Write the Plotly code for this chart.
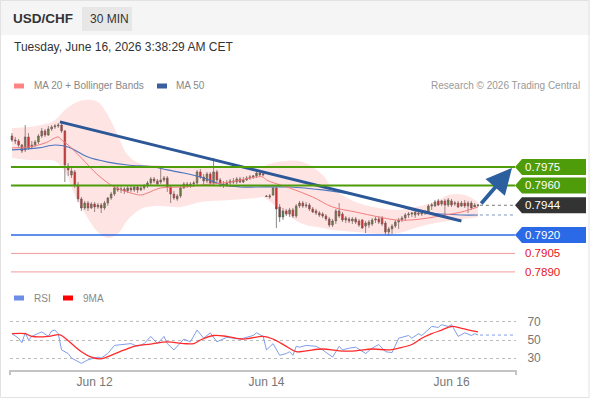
import plotly.graph_objects as go

W, H = 590, 400

# 30-minute USD/CHF candles, bar index 0..141
opens = [
    0.80001, 0.79969, 0.79961, 0.79928, 0.79888, 0.79993, 0.79912, 0.79928, 0.79953, 0.80001,
    0.80042, 0.80009, 0.80058, 0.80074, 0.80082, 0.80090, 0.80042, 0.79758, 0.79685, 0.79710,
    0.79604, 0.79491, 0.79418, 0.79458, 0.79418, 0.79450, 0.79426, 0.79442, 0.79418, 0.79458,
    0.79499, 0.79531, 0.79580, 0.79564, 0.79572, 0.79556, 0.79580, 0.79564, 0.79588, 0.79564,
    0.79580, 0.79596, 0.79620, 0.79653, 0.79637, 0.79628, 0.79645, 0.79661, 0.79588, 0.79531,
    0.79491, 0.79515, 0.79580, 0.79612, 0.79596, 0.79612, 0.79620, 0.79710, 0.79669, 0.79637,
    0.79693, 0.79620, 0.79710, 0.79645, 0.79612, 0.79604, 0.79620, 0.79637, 0.79628, 0.79653,
    0.79628, 0.79645, 0.79661, 0.79669, 0.79677, 0.79701, 0.79685, 0.79515, 0.79507, 0.79523,
    0.79580, 0.79426, 0.79345, 0.79394, 0.79369, 0.79402, 0.79353, 0.79434, 0.79458, 0.79434,
    0.79442, 0.79410, 0.79394, 0.79377, 0.79369, 0.79353, 0.79329, 0.79280, 0.79313, 0.79394,
    0.79369, 0.79321, 0.79329, 0.79313, 0.79329, 0.79313, 0.79321, 0.79272, 0.79280, 0.79288,
    0.79321, 0.79329, 0.79337, 0.79296, 0.79223, 0.79248, 0.79272, 0.79304, 0.79321, 0.79337,
    0.79361, 0.79369, 0.79361, 0.79377, 0.79369, 0.79377, 0.79385, 0.79434, 0.79434, 0.79475,
    0.79450, 0.79475, 0.79442, 0.79475, 0.79450, 0.79458, 0.79434, 0.79458, 0.79434, 0.79458,
    0.79426, 0.79442,
]
highs = [
    0.80025, 0.79993, 0.79977, 0.79936, 0.80090, 0.80025, 0.79961, 0.79969, 0.80017, 0.80066,
    0.80058, 0.80082, 0.80090, 0.80098, 0.80106, 0.80115, 0.80050, 0.79782, 0.79742, 0.79726,
    0.79628, 0.79507, 0.79475, 0.79475, 0.79466, 0.79466, 0.79458, 0.79458, 0.79475, 0.79507,
    0.79548, 0.79596, 0.79596, 0.79596, 0.79588, 0.79604, 0.79596, 0.79604, 0.79604, 0.79604,
    0.79612, 0.79637, 0.79669, 0.79669, 0.79653, 0.79742, 0.79677, 0.79677, 0.79604, 0.79556,
    0.79531, 0.79596, 0.79628, 0.79628, 0.79628, 0.79637, 0.79726, 0.79734, 0.79693, 0.79710,
    0.79710, 0.79823, 0.79726, 0.79661, 0.79637, 0.79645, 0.79653, 0.79661, 0.79669, 0.79669,
    0.79669, 0.79677, 0.79685, 0.79685, 0.79718, 0.79718, 0.79701, 0.79523, 0.79531, 0.79588,
    0.79588, 0.79450, 0.79418, 0.79410, 0.79418, 0.79418, 0.79450, 0.79475, 0.79475, 0.79466,
    0.79458, 0.79426, 0.79410, 0.79394, 0.79385, 0.79369, 0.79345, 0.79329, 0.79410, 0.79458,
    0.79385, 0.79353, 0.79345, 0.79345, 0.79345, 0.79329, 0.79329, 0.79313, 0.79321, 0.79337,
    0.79345, 0.79353, 0.79353, 0.79313, 0.79264, 0.79288, 0.79321, 0.79337, 0.79353, 0.79377,
    0.79385, 0.79385, 0.79394, 0.79394, 0.79394, 0.79402, 0.79450, 0.79458, 0.79483, 0.79491,
    0.79483, 0.79491, 0.79499, 0.79491, 0.79475, 0.79475, 0.79475, 0.79483, 0.79475, 0.79475,
    0.79458, 0.79450,
]
lows = [
    0.79953, 0.79936, 0.79912, 0.79863, 0.79871, 0.79888, 0.79896, 0.79912, 0.79936, 0.79985,
    0.79993, 0.80001, 0.80042, 0.80058, 0.80066, 0.80025, 0.79628, 0.79677, 0.79661, 0.79580,
    0.79466, 0.79394, 0.79402, 0.79394, 0.79410, 0.79385, 0.79410, 0.79377, 0.79402, 0.79434,
    0.79483, 0.79515, 0.79548, 0.79539, 0.79531, 0.79539, 0.79548, 0.79548, 0.79539, 0.79556,
    0.79564, 0.79580, 0.79604, 0.79620, 0.79596, 0.79612, 0.79628, 0.79548, 0.79458, 0.79483,
    0.79475, 0.79499, 0.79572, 0.79580, 0.79580, 0.79588, 0.79604, 0.79653, 0.79612, 0.79620,
    0.79604, 0.79604, 0.79628, 0.79588, 0.79580, 0.79588, 0.79604, 0.79612, 0.79612, 0.79620,
    0.79620, 0.79637, 0.79645, 0.79653, 0.79661, 0.79677, 0.79677, 0.79507, 0.79491, 0.79515,
    0.79256, 0.79304, 0.79321, 0.79353, 0.79345, 0.79337, 0.79337, 0.79418, 0.79418, 0.79418,
    0.79394, 0.79377, 0.79361, 0.79345, 0.79337, 0.79313, 0.79264, 0.79264, 0.79288, 0.79337,
    0.79304, 0.79296, 0.79296, 0.79288, 0.79288, 0.79264, 0.79248, 0.79215, 0.79256, 0.79272,
    0.79296, 0.79288, 0.79272, 0.79199, 0.79191, 0.79207, 0.79256, 0.79248, 0.79304, 0.79313,
    0.79337, 0.79345, 0.79337, 0.79353, 0.79353, 0.79361, 0.79369, 0.79402, 0.79426, 0.79434,
    0.79434, 0.79345, 0.79426, 0.79426, 0.79434, 0.79418, 0.79426, 0.79418, 0.79377, 0.79402,
    0.79426, 0.79426,
]
closes = [
    0.79969, 0.79961, 0.79928, 0.79880, 0.79993, 0.79904, 0.79928, 0.79953, 0.80001, 0.80042,
    0.80009, 0.80058, 0.80074, 0.80082, 0.80090, 0.80042, 0.79766, 0.79726, 0.79718, 0.79604,
    0.79491, 0.79418, 0.79458, 0.79418, 0.79450, 0.79426, 0.79442, 0.79418, 0.79458, 0.79499,
    0.79531, 0.79580, 0.79564, 0.79572, 0.79556, 0.79580, 0.79564, 0.79588, 0.79564, 0.79580,
    0.79596, 0.79620, 0.79653, 0.79637, 0.79612, 0.79645, 0.79661, 0.79588, 0.79531, 0.79499,
    0.79515, 0.79580, 0.79612, 0.79596, 0.79612, 0.79620, 0.79710, 0.79669, 0.79637, 0.79693,
    0.79620, 0.79710, 0.79645, 0.79612, 0.79604, 0.79620, 0.79637, 0.79628, 0.79653, 0.79628,
    0.79645, 0.79661, 0.79669, 0.79677, 0.79701, 0.79685, 0.79693, 0.79511, 0.79515, 0.79580,
    0.79410, 0.79345, 0.79394, 0.79369, 0.79402, 0.79353, 0.79434, 0.79458, 0.79434, 0.79442,
    0.79410, 0.79385, 0.79377, 0.79361, 0.79353, 0.79329, 0.79280, 0.79313, 0.79394, 0.79353,
    0.79321, 0.79337, 0.79313, 0.79329, 0.79304, 0.79280, 0.79256, 0.79296, 0.79304, 0.79321,
    0.79329, 0.79304, 0.79288, 0.79223, 0.79248, 0.79272, 0.79304, 0.79321, 0.79337, 0.79361,
    0.79369, 0.79377, 0.79385, 0.79369, 0.79377, 0.79385, 0.79434, 0.79442, 0.79466, 0.79442,
    0.79475, 0.79442, 0.79483, 0.79442, 0.79458, 0.79426, 0.79458, 0.79434, 0.79458, 0.79418,
    0.79442, 0.79440,
]
bars = list(range(len(closes)))

# indicators, sampled at bar indices
ma20_idx = [0, 5, 10, 14, 15, 17, 21, 26, 31, 36, 39, 41, 45, 52, 57, 66, 74, 76, 77,
            84, 91, 97, 104, 111, 116, 121, 126, 131, 136, 141]
ma20_val = [0.79904, 0.79912, 0.79944, 0.79993, 0.79969, 0.79928, 0.79823, 0.79685, 0.79588,
            0.79539, 0.79523, 0.79539, 0.79580, 0.79588, 0.79604, 0.79628, 0.79669, 0.79669,
            0.79645, 0.79580, 0.79507, 0.79426, 0.79385, 0.79345, 0.79321, 0.79321, 0.79337,
            0.79361, 0.79385, 0.79426]

band_idx = [0, 5, 10, 13, 16, 19, 22, 26, 29, 32, 35, 39, 43, 51, 57, 66, 74, 76, 77,
            83, 88, 94, 97, 104, 111, 117, 122, 128, 132, 137, 141]
bb_upper = [0.80066, 0.80074, 0.80098, 0.80131, 0.80212, 0.80269, 0.80293, 0.80277, 0.80171,
            0.80009, 0.79847, 0.79774, 0.79766, 0.79750, 0.79758, 0.79758, 0.79742, 0.79742,
            0.79766, 0.79799, 0.79790, 0.79685, 0.79580, 0.79466, 0.79418, 0.79402, 0.79426,
            0.79466, 0.79523, 0.79523, 0.79466]
bb_lower = [0.79823, 0.79807, 0.79807, 0.79799, 0.79710, 0.79523, 0.79377, 0.79223, 0.79175,
            0.79207, 0.79321, 0.79410, 0.79434, 0.79426, 0.79466, 0.79483, 0.79499, 0.79507,
            0.79491, 0.79369, 0.79288, 0.79256, 0.79240, 0.79223, 0.79207, 0.79215, 0.79256,
            0.79296, 0.79313, 0.79329, 0.79345]

ma50_idx = [0, 8, 13, 17, 23, 29, 35, 43, 47, 52, 57, 64, 69, 74, 84, 94, 104, 114, 124,
            130, 136, 141]
ma50_val = [0.79888, 0.79904, 0.79928, 0.79912, 0.79831, 0.79790, 0.79766, 0.79750, 0.79726,
            0.79701, 0.79669, 0.79604, 0.79588, 0.79588, 0.79588, 0.79564, 0.79523, 0.79458,
            0.79385, 0.79369, 0.79361, 0.79361]

trend_idx = [14.5, 136]
trend_val = [0.80115, 0.79313]

arrow_from = (141.6, 0.79442)
arrow_to = (151.3, 0.79742)

rsi_idx = [0, 2, 3, 4, 5, 6, 9, 11, 12, 13, 14, 15, 17, 18, 21, 23, 24, 26, 27, 29, 31, 34,
           36, 38, 40, 42, 44, 46, 47, 49, 52, 54, 56, 58, 60, 62, 65, 69, 73, 74, 76, 77,
           79, 81, 83, 84, 85, 86, 87, 89, 92, 94, 97, 99, 100, 102, 104, 107, 109, 111,
           113, 115, 117, 120, 121, 123, 124, 127, 129, 130, 132, 133, 135, 137, 139, 140, 141]
rsi_val = [57, 52, 47, 58, 50, 54, 59, 54, 60, 61, 57, 39, 35, 30, 24, 28, 29, 31, 30, 35,
           44, 45, 46, 43, 46, 54, 46, 54, 46, 39, 51, 48, 61, 52, 58, 48, 53, 51, 55, 58,
           54, 39, 46, 33, 35, 37, 33, 43, 42, 44, 43, 39, 31, 43, 39, 41, 42, 35, 41, 45,
           37, 36, 52, 55, 52, 57, 55, 65, 64, 67, 65, 67, 54, 58, 55, 57, 55.5]
rsi_ma_idx = [0, 4, 6, 11, 14, 15, 18, 21, 24, 27, 30, 34, 37, 42, 47, 52, 55, 57, 61, 65,
              70, 76, 79, 83, 86, 89, 94, 99, 104, 109, 114, 117, 121, 124, 127, 130, 133,
              136, 141]
rsi_ma_val = [57, 57, 54, 54, 56, 55, 46, 37, 31, 29, 33, 39, 43, 45.5, 48, 46, 46, 50, 55,
              54, 51, 54, 51, 43, 37, 38, 40, 38, 38, 40, 39, 41, 45, 52, 57, 61, 65, 63, 59]

# key levels: (price, colour, tag style)
levels = [
    (0.7975, "#4f9c0a", "tag"),
    (0.7960, "#4f9c0a", "tag"),
    (0.7920, "#2a6ae6", "tag"),
    (0.7905, "#f39a9a", "text"),
    (0.7890, "#f39a9a", "text"),
]
last_price = 0.7944
tick_idx = [25, 77, 133]
tick_txt = ["Jun 12", "Jun 14", "Jun 16"]

FONT = "Liberation Sans"
GREEN = "#3a8a2a"
RED = "#e01010"
TAG_TEXT_X = 154.6


def px(x):
    return x / W


def py(y):
    return 1 - y / H


fig = go.Figure()

# Bollinger band fill
fig.add_trace(go.Scatter(x=band_idx, y=bb_upper, mode="lines",
                         line=dict(width=0, shape="spline", color="rgba(0,0,0,0)"),
                         hoverinfo="skip"))
fig.add_trace(go.Scatter(x=band_idx, y=bb_lower, mode="lines",
                         line=dict(width=0, shape="spline", color="rgba(0,0,0,0)"),
                         fill="tonexty", fillcolor="rgba(255,120,120,0.2)", hoverinfo="skip"))
fig.add_trace(go.Scatter(x=ma50_idx, y=ma50_val, mode="lines",
                         line=dict(width=1.2, color="#4d76bd", shape="spline")))
fig.add_trace(go.Scatter(x=ma20_idx, y=ma20_val, mode="lines",
                         line=dict(width=1, color="#f27c7c", shape="spline")))

fig.add_trace(go.Candlestick(
    x=bars, open=opens, high=highs, low=lows, close=closes,
    increasing=dict(fillcolor=GREEN, line=dict(color="#555555", width=0.7)),
    decreasing=dict(fillcolor=RED, line=dict(color="#555555", width=0.7)),
    whiskerwidth=0, hoverinfo="skip",
))

fig.add_trace(go.Scatter(x=trend_idx, y=trend_val, mode="lines",
                         line=dict(width=3, color="#2c5898")))

# RSI panel
fig.add_trace(go.Scatter(x=rsi_idx, y=rsi_val, mode="lines", xaxis="x2", yaxis="y2",
                         line=dict(width=1, color="#7f9ee8")))
fig.add_trace(go.Scatter(x=rsi_ma_idx, y=rsi_ma_val, mode="lines", xaxis="x2", yaxis="y2",
                         line=dict(width=1.3, color="#ff2a2a", shape="spline")))

shapes = []
annotations = []

# header / frame
shapes.append(dict(type="rect", xref="paper", yref="paper", x0=0, x1=1, y0=py(35), y1=1,
                   fillcolor="#f5f5f5", line=dict(width=0), layer="below"))
shapes.append(dict(type="rect", xref="paper", yref="paper", x0=px(82), x1=px(132),
                   y0=py(31), y1=py(7), fillcolor="#e7e7e7", line=dict(width=0), layer="below"))
shapes.append(dict(type="rect", xref="paper", yref="paper", x0=px(0.5), x1=px(589),
                   y0=py(397.5), y1=py(0.5), line=dict(color="#e2e2e2", width=1)))

annotations += [
    dict(text="<b>USD/CHF</b>", x=px(11), y=py(19), font=dict(size=13.5, color="#333")),
    dict(text="30 MIN", x=px(88), y=py(19), font=dict(size=12, color="#333")),
    dict(text="Tuesday, June 16, 2026 3:38:29 AM CET", x=px(12), y=py(47),
         font=dict(size=12, color="#333")),
    dict(text="MA 20 + Bollinger Bands", x=px(32), y=py(86), font=dict(size=10, color="#888")),
    dict(text="MA 50", x=px(174), y=py(86), font=dict(size=10, color="#888")),
    dict(text="RSI", x=px(32), y=py(298), font=dict(size=10, color="#888")),
    dict(text="9MA", x=px(81), y=py(298), font=dict(size=10, color="#888")),
]
for a in annotations:
    a.update(xref="paper", yref="paper", xanchor="left", yanchor="middle", showarrow=False)
annotations.append(dict(text="Research © 2026 Trading Central", xref="paper", yref="paper",
                        x=px(582), y=py(86), xanchor="right", yanchor="middle",
                        showarrow=False, font=dict(size=10, color="#999")))

for x0, col, yy in [(14, "#ff8585", 86), (157, "#3a5f9f", 86), (14, "#6b8de6", 298),
                    (63, "#ff0000", 298)]:
    shapes.append(dict(type="rect", xref="paper", yref="paper", x0=px(x0), x1=px(x0 + 10),
                       y0=py(yy + 2.5), y1=py(yy - 2.5), fillcolor=col, line=dict(width=0)))

# horizontal levels with price tags
for price, col, style in levels:
    if style == "tag":
        shapes.append(dict(type="line", xref="x", yref="y", x0=-0.3, x1=152.2, y0=price,
                           y1=price, line=dict(color=col, width=2 if col != "#2a6ae6" else 1.5)))
        shapes.append(dict(type="path", xref="x", yref="y", xsizemode="pixel",
                           ysizemode="pixel", xanchor=152.2, yanchor=price,
                           path="M0,0 L7,8 L71,8 L71,-8 L7,-8 Z", fillcolor=col,
                           line=dict(width=0)))
        annotations.append(dict(text=f"{price:.4f}", x=TAG_TEXT_X, y=price, xref="x", yref="y",
                                xanchor="left", yanchor="middle", showarrow=False,
                                font=dict(size=11.5, color="white")))
    else:
        shapes.append(dict(type="line", xref="x", yref="y", x0=-0.3, x1=152.2, y0=price,
                           y1=price, line=dict(color=col, width=1)))
        annotations.append(dict(text=f"{price:.4f}", x=TAG_TEXT_X, y=price, xref="x", yref="y",
                                xanchor="left", yanchor="middle", showarrow=False,
                                font=dict(size=11.5, color="#e8141e")))

# last price tag and dotted extensions
shapes.append(dict(type="line", xref="x", yref="y", x0=141.6, x1=152.2, y0=last_price,
                   y1=last_price, line=dict(color="#777", width=1, dash="dot")))
shapes.append(dict(type="line", xref="x", yref="y", x0=141.6, x1=152.2, y0=ma50_val[-1],
                   y1=ma50_val[-1], line=dict(color="#7d95c0", width=1, dash="dot")))
shapes.append(dict(type="path", xref="x", yref="y", xsizemode="pixel", ysizemode="pixel",
                   xanchor=152.2, yanchor=last_price, path="M0,0 L7,8 L71,8 L71,-8 L7,-8 Z",
                   fillcolor="#333333", line=dict(width=0)))
annotations.append(dict(text=f"{last_price:.4f}", x=TAG_TEXT_X, y=last_price, xref="x",
                        yref="y", xanchor="left", yanchor="middle", showarrow=False,
                        font=dict(size=11.5, color="white")))
shapes.append(dict(type="line", xref="x2", yref="y2", x0=141.6, x1=152.5, y0=rsi_val[-1],
                   y1=rsi_val[-1], line=dict(color="#7f9ee8", width=1, dash="dot")))

# forecast arrow
annotations.append(dict(x=arrow_to[0], y=arrow_to[1], ax=arrow_from[0], ay=arrow_from[1],
                        xref="x", yref="y", axref="x", ayref="y", text="", showarrow=True,
                        arrowhead=2, arrowsize=1.35, arrowwidth=3.8, arrowcolor="#2c5f9e"))

# end ticks of the RSI time axis
for xd in (0, 1):
    shapes.append(dict(type="line", xref="x2 domain", yref="paper", x0=xd, x1=xd,
                       y0=py(370), y1=py(375), line=dict(color="#c4c4c4", width=2)))

fig.update_layout(
    width=W, height=H,
    margin=dict(l=0, r=0, t=0, b=0),
    paper_bgcolor="white", plot_bgcolor="rgba(0,0,0,0)",
    font=dict(family=FONT),
    showlegend=False,
    shapes=shapes,
    annotations=annotations,
    xaxis=dict(domain=[px(10), px(588)], range=[-0.6, 174.3], visible=False,
               rangeslider=dict(visible=False)),
    yaxis=dict(domain=[py(285), py(95)], range=[0.78794, 0.80333], visible=False),
    xaxis2=dict(domain=[px(10), px(516)], range=[-0.6, 152.5], anchor="y2",
                showline=True, linecolor="#c4c4c4", linewidth=2, showgrid=False,
                zeroline=False, tickvals=tick_idx, ticktext=tick_txt, ticks="",
                tickfont=dict(size=12, color="#777")),
    yaxis2=dict(domain=[py(370), py(310)], range=[16.7, 83.3], anchor="x2", side="right",
                tickvals=[30, 50, 70], showgrid=True, gridcolor="#bdbdbd", griddash="dot",
                zeroline=False, showline=False, ticks="outside", ticklen=8,
                tickcolor="rgba(0,0,0,0)", tickfont=dict(size=12, color="#777")),
)

# the page's default body margin would shift the 590x400 figure
fig.write_html("out.html", config={"displayModeBar": False},
               post_script="document.body.style.margin='0px';")
